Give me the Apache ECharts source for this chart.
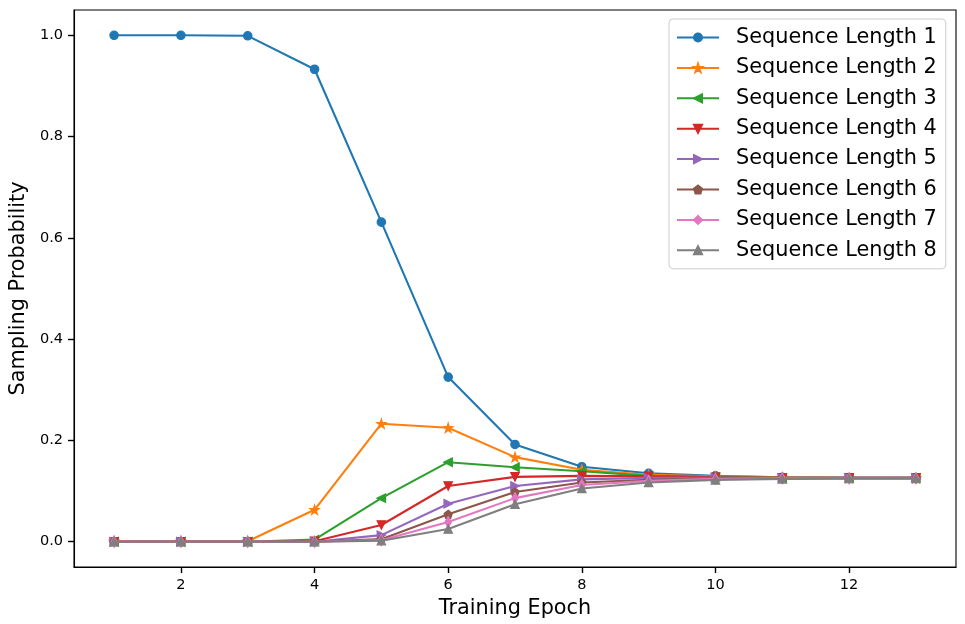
<!DOCTYPE html>
<html>
<head>
<meta charset="utf-8">
<script src="https://cdn.jsdelivr.net/npm/echarts@6/dist/echarts.min.js"></script>
<style>
html,body{margin:0;padding:0;background:#fff;}
#chart{width:965px;height:624px;}
</style>
</head>
<body>
<div id="chart"></div>
<script>
const epochs = [1,2,3,4,5,6,7,8,9,10,11,12,13];
const seq1 = [1.000,1.000,0.999,0.933,0.631,0.325,0.192,0.148,0.135,0.130,0.127,0.126,0.126];
const seq2 = [0.001,0.001,0.001,0.063,0.233,0.225,0.167,0.142,0.132,0.129,0.127,0.126,0.126];
const seq3 = [0.000,0.000,0.000,0.004,0.086,0.157,0.147,0.139,0.130,0.128,0.126,0.126,0.126];
const seq4 = [0.000,0.000,0.000,0.001,0.033,0.110,0.128,0.130,0.129,0.127,0.126,0.126,0.126];
const seq5 = [0.000,0.000,0.000,0.000,0.013,0.075,0.110,0.123,0.126,0.126,0.126,0.126,0.126];
const seq6 = [0.000,0.000,0.000,0.000,0.005,0.054,0.098,0.117,0.122,0.125,0.125,0.125,0.125];
const seq7 = [0.000,0.000,0.000,0.000,0.003,0.039,0.086,0.112,0.120,0.124,0.125,0.125,0.125];
const seq8 = [0.000,0.000,0.000,0.000,0.002,0.025,0.074,0.105,0.117,0.122,0.124,0.125,0.125];
const seriesNames = ['Sequence Length 1','Sequence Length 2','Sequence Length 3','Sequence Length 4',
  'Sequence Length 5','Sequence Length 6','Sequence Length 7','Sequence Length 8'];
const xTicks = [2,4,6,8,10,12];
const yTicks = [0,0.2,0.4,0.6,0.8,1.0];

const colors = ['#1f77b4','#ff7f0e','#2ca02c','#d62728','#9467bd','#8c564b','#e377c2','#7f7f7f'];
const star = 'path://M0,-10L2.245,-3.09L9.511,-3.09L3.633,1.18L5.878,8.09L0,3.82L-5.878,8.09L-3.633,1.18L-9.511,-3.09L-2.245,-3.09Z';
const triLeft = 'path://M-1,0L1,-1L1,1Z';
const triDown = 'path://M-1,-1L1,-1L0,1Z';
const triRight = 'path://M1,0L-1,-1L-1,1Z';
const triUp = 'path://M0,-1L1,1L-1,1Z';
const pentagon = 'path://M0,-10L9.511,-3.09L5.878,8.09L-5.878,8.09L-9.511,-3.09Z';
const symbols = ['circle', star, triLeft, triDown, triRight, pentagon, 'diamond', triUp];
const sizes = [8.3, 9, 8.3, 8.3, 8.3, 8, [6.5, 11], 8.3];
const allData = [seq1,seq2,seq3,seq4,seq5,seq6,seq7,seq8];

const FONT = 'DejaVu Sans';
const series = allData.map((vals, i) => ({
  name: seriesNames[i],
  type: 'line',
  data: epochs.map((e, j) => [e, vals[j]]),
  symbol: symbols[i],
  symbolSize: sizes[i],
  showAllSymbol: true,
  lineStyle: { color: colors[i], width: 2.1 },
  itemStyle: { color: colors[i], borderColor: colors[i], borderWidth: 1.3 },
  emphasis: { disabled: true },
  z: 2 + i
}));

const chart = echarts.init(document.getElementById('chart'), null, { renderer: 'canvas' });
chart.setOption({
  animation: false,
  color: colors,
  grid: { left: 74, right: 9, top: 10, bottom: 55, show: true, borderColor: '#000', borderWidth: 1.1, backgroundColor: 'transparent' },
  xAxis: {
    type: 'value', min: 0.4, max: 13.6,
    name: 'Training Epoch', nameLocation: 'middle', nameGap: 31,
    nameTextStyle: { fontFamily: FONT, fontSize: 20.8, color: '#000' },
    axisLine: { show: true, onZero: false, lineStyle: { color: '#000', width: 1.1 } },
    splitLine: { show: false },
    axisTick: { show: true, length: 6, customValues: xTicks, lineStyle: { color: '#000', width: 1.4 } },
    axisLabel: { customValues: xTicks, fontFamily: FONT, fontSize: 14.5, color: '#000', margin: 11 }
  },
  yAxis: {
    type: 'value', min: -0.05, max: 1.05,
    name: 'Sampling Probability', nameLocation: 'middle', nameGap: 40, nameRotate: 90,
    nameTextStyle: { fontFamily: FONT, fontSize: 20.8, color: '#000' },
    axisLine: { show: true, onZero: false, lineStyle: { color: '#000', width: 1.1 } },
    splitLine: { show: false },
    axisTick: { show: true, length: 6, customValues: yTicks, lineStyle: { color: '#000', width: 1.4 } },
    axisLabel: { customValues: yTicks, fontFamily: FONT, fontSize: 14.5, color: '#000', margin: 11,
      formatter: v => v.toFixed(1) }
  },
  legend: {
    orient: 'vertical', left: 669, top: 19,
    data: seriesNames,
    itemWidth: 42, itemHeight: 10, itemGap: 9.4,
    padding: [8, 9, 8, 7],
    backgroundColor: 'rgba(255,255,255,0.8)', borderColor: '#cccccc', borderWidth: 1, borderRadius: 4,
    textStyle: { fontFamily: FONT, fontSize: 20.8, color: '#000', lineHeight: 21, padding: [0, 0, 0, 12] },
    selectedMode: false
  },
  series: series
});
</script>
</body>
</html>
